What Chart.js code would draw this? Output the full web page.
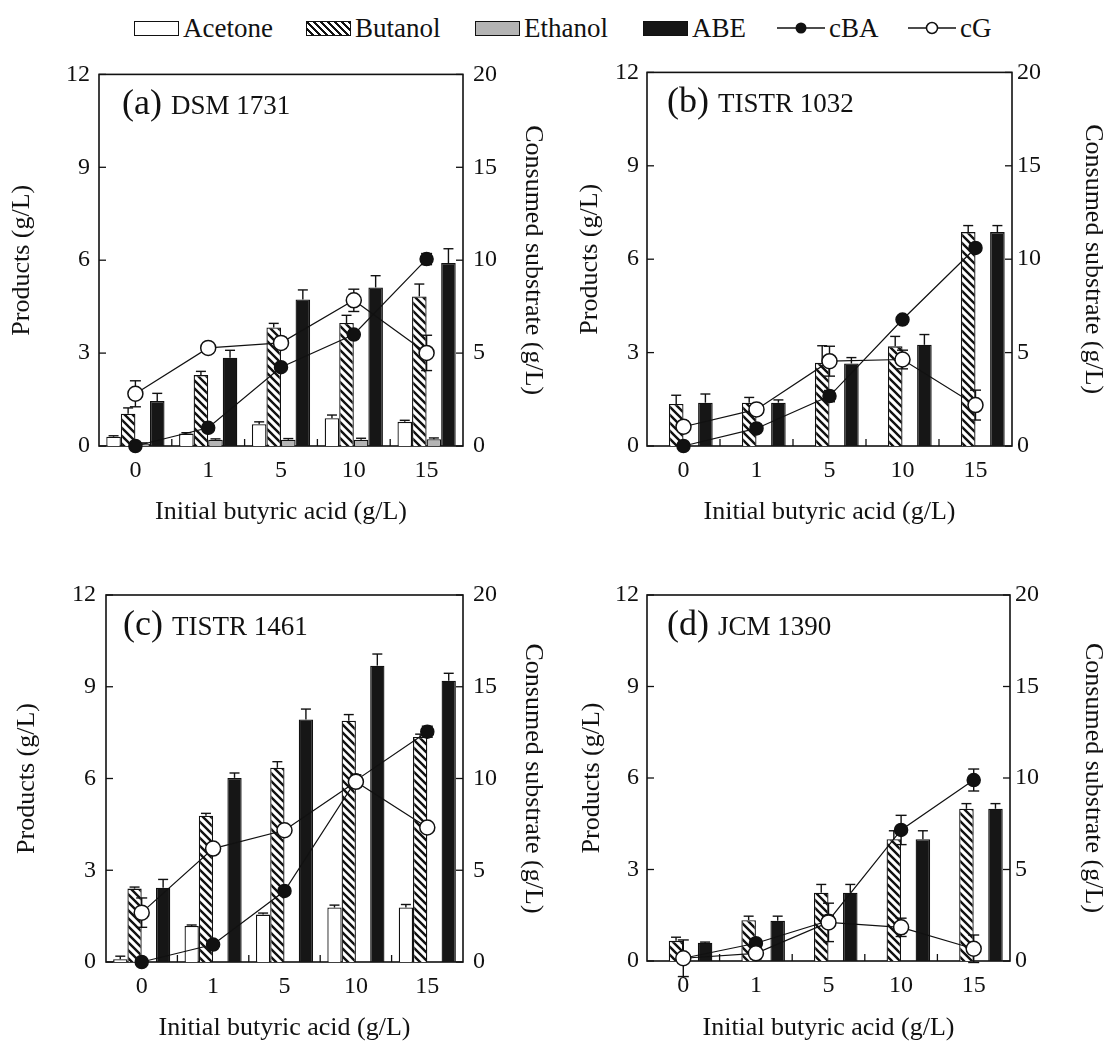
<!DOCTYPE html>
<html>
<head>
<meta charset="utf-8">
<script src="https://cdn.jsdelivr.net/npm/chart.js@4.4.0/dist/chart.umd.min.js"></script>
<style>
  body { margin: 0; background: #fff; width: 1106px; height: 1043px; position: relative; overflow: hidden;
         font-family: "Liberation Serif", "Times New Roman", serif; color: #111; }
  canvas { position: absolute; }
  .lg { position: absolute; top: 12px; height: 32px; display: flex; align-items: center; font-size: 27px; }
  .sw { width: 43px; height: 13px; border: 1.6px solid #111; margin-right: 4px; }
  .hatch { background: repeating-linear-gradient(45deg, #fff 0 3px, #111 3px 5px); }
</style>
</head>
<body>
<div class="lg" style="left:134px"><span class="sw" style="background:#fff"></span>Acetone</div>
<div class="lg" style="left:306px"><span class="sw hatch"></span>Butanol</div>
<div class="lg" style="left:475px"><span class="sw" style="background:#b4b4b4"></span>Ethanol</div>
<div class="lg" style="left:643px"><span class="sw" style="background:#161616"></span>ABE</div>
<div class="lg" style="left:776px"><svg width="50" height="16" style="margin-right:3px"><line x1="1" y1="8" x2="49" y2="8" stroke="#111" stroke-width="1.5"/><circle cx="25" cy="8" r="5.5" fill="#111"/></svg>cBA</div>
<div class="lg" style="left:907px"><svg width="50" height="16" style="margin-right:3px"><line x1="1" y1="8" x2="49" y2="8" stroke="#111" stroke-width="1.5"/><circle cx="25" cy="8" r="5.5" fill="#fff" stroke="#111" stroke-width="1.5"/></svg>cG</div>

<canvas id="pa" style="left:0;top:50px" width="553" height="490"></canvas>
<canvas id="pb" style="left:553px;top:50px" width="553" height="490"></canvas>
<canvas id="pc" style="left:0;top:550px" width="553" height="493"></canvas>
<canvas id="pd" style="left:553px;top:550px" width="553" height="493"></canvas>

<script>
// initial butyric acid (g/L)
const categories = ['0', '1', '5', '10', '15'];
const productTicks = [0, 3, 6, 9, 12];
const substrateTicks = [0, 5, 10, 15, 20];
const panelTags = ['(a)', '(b)', '(c)', '(d)'];
const strains = ['DSM 1731', 'TISTR 1032', 'TISTR 1461', 'JCM 1390'];

// (a) DSM 1731
const acetoneA = [0.30, 0.40, 0.70, 0.90, 0.78];
const acetoneErrA = [0.03, 0.03, 0.08, 0.10, 0.05];
const butanolA = [1.04, 2.29, 3.83, 3.97, 4.83];
const butanolErrA = [0.19, 0.12, 0.13, 0.25, 0.40];
const ethanolA = [0.08, 0.20, 0.20, 0.20, 0.22];
const ethanolErrA = [0.02, 0.03, 0.04, 0.05, 0.04];
const abeA = [1.45, 2.85, 4.73, 5.12, 5.91];
const abeErrA = [0.25, 0.24, 0.31, 0.38, 0.46];
const cbaA = [0, 0.98, 4.24, 6.0, 10.06];
const cbaErrA = [0.1, 0.1, 0.1, 0.2, 0.3];
const cgA = [2.81, 5.28, 5.55, 7.84, 5.01];
const cgErrA = [0.7, 0.1, 0.3, 0.6, 0.95];

// (b) TISTR 1032
const acetoneB = [0, 0, 0, 0, 0];
const acetoneErrB = [0, 0, 0, 0, 0];
const butanolB = [1.35, 1.39, 2.67, 3.20, 6.87];
const butanolErrB = [0.28, 0.17, 0.55, 0.32, 0.21];
const ethanolB = [0, 0, 0, 0, 0];
const ethanolErrB = [0, 0, 0, 0, 0];
const abeB = [1.39, 1.39, 2.65, 3.25, 6.87];
const abeErrB = [0.28, 0.09, 0.19, 0.33, 0.21];
const cbaB = [0, 0.94, 2.67, 6.77, 10.6];
const cbaErrB = [0.1, 0.1, 0.3, 0.2, 0.2];
const cgB = [1.03, 1.96, 4.54, 4.63, 2.19];
const cgErrB = [0.3, 0.3, 0.8, 0.5, 0.8];

// (c) TISTR 1461
const acetoneC = [0.09, 1.18, 1.55, 1.78, 1.78];
const acetoneErrC = [0.10, 0.03, 0.05, 0.08, 0.10];
const butanolC = [2.40, 4.78, 6.35, 7.89, 7.36];
const butanolErrC = [0.05, 0.08, 0.20, 0.20, 0.09];
const ethanolC = [0, 0, 0, 0, 0];
const ethanolErrC = [0, 0, 0, 0, 0];
const abeC = [2.43, 6.02, 7.93, 9.69, 9.20];
const abeErrC = [0.27, 0.16, 0.34, 0.38, 0.24];
const cbaC = [0, 0.95, 3.87, 9.9, 12.55];
const cbaErrC = [0.1, 0.1, 0.2, 0.3, 0.3];
const cgC = [2.69, 6.18, 7.18, 9.82, 7.33];
const cgErrC = [0.8, 0.2, 0.2, 0.2, 0.2];

// (d) JCM 1390
const acetoneD = [0, 0, 0, 0, 0];
const acetoneErrD = [0, 0, 0, 0, 0];
const butanolD = [0.66, 1.34, 2.24, 3.99, 4.99];
const butanolErrD = [0.12, 0.13, 0.27, 0.28, 0.17];
const ethanolD = [0, 0, 0, 0, 0];
const ethanolErrD = [0, 0, 0, 0, 0];
const abeD = [0.60, 1.32, 2.24, 3.99, 4.99];
const abeErrD = [0.02, 0.15, 0.27, 0.28, 0.17];
const cbaD = [0.15, 0.97, 2.2, 7.16, 9.89];
const cbaErrD = [0.2, 0.2, 0.3, 0.8, 0.6];
const cgD = [0.15, 0.42, 2.11, 1.84, 0.67];
const cgErrD = [1.0, 0.3, 1.05, 0.5, 0.75];

const INK = '#111';
const FAMILY = '"Liberation Serif", "Times New Roman", serif';

// diagonal hatch for butanol
const hatchCanvas = document.createElement('canvas');
hatchCanvas.width = 8; hatchCanvas.height = 8;
const hctx = hatchCanvas.getContext('2d');
hctx.fillStyle = '#fff';
hctx.fillRect(0, 0, 8, 8);
hctx.strokeStyle = INK;
hctx.lineWidth = 2.4;
hctx.beginPath();
hctx.moveTo(-1, -1); hctx.lineTo(9, 9);
hctx.moveTo(-1, 7); hctx.lineTo(1, 9);
hctx.moveTo(7, -1); hctx.lineTo(9, 1);
hctx.stroke();
const hatch = hctx.createPattern(hatchCanvas, 'repeat');

function line(ctx, x1, y1, x2, y2) {
  ctx.beginPath(); ctx.moveTo(x1, y1); ctx.lineTo(x2, y2); ctx.stroke();
}

// frame, inward ticks, panel label
const frame = {
  id: 'frame',
  beforeDatasetsDraw(chart, args, opts) {
    const { ctx, chartArea: a, scales } = chart;
    ctx.save();
    ctx.strokeStyle = INK;
    ctx.lineWidth = 1.6;
    ctx.strokeRect(a.left, a.top, a.right - a.left, a.bottom - a.top);
    ctx.lineWidth = 1.3;
    const tl = 7;
    scales.y.ticks.forEach(t => {
      const py = scales.y.getPixelForValue(t.value);
      line(ctx, a.left, py, a.left + tl, py);
    });
    scales.y2.ticks.forEach(t => {
      const py = scales.y2.getPixelForValue(t.value);
      line(ctx, a.right, py, a.right - tl, py);
    });
    for (let i = 0; i < categories.length - 1; i++) {
      const px = (scales.x.getPixelForValue(i) + scales.x.getPixelForValue(i + 1)) / 2;
      line(ctx, px, a.bottom, px, a.bottom - tl);
    }
    ctx.fillStyle = INK;
    ctx.textBaseline = 'alphabetic';
    ctx.font = '36px ' + FAMILY;
    const x0 = a.left + opts.dx;
    const y0 = a.top + 40;
    ctx.fillText(opts.tag, x0, y0);
    const w = ctx.measureText(opts.tag).width;
    ctx.font = '27px ' + FAMILY;
    ctx.fillText(opts.strain, x0 + w + 9, y0);
    ctx.restore();
  }
};

function drawErrors(chart, meta, ds, twoSided) {
  if (!ds.errors) return;
  const ctx = chart.ctx;
  const scale = chart.scales[meta.yAxisID];
  ctx.save();
  ctx.strokeStyle = INK;
  ctx.lineWidth = 1.4;
  meta.data.forEach((el, i) => {
    const v = ds.data[i], e = ds.errors[i];
    if (!e || v == null || (!twoSided && v === 0)) return;
    const yHi = scale.getPixelForValue(v + e);
    const yLo = scale.getPixelForValue(twoSided ? v - e : v);
    const cap = twoSided ? 5.5 : 5;
    line(ctx, el.x, yLo, el.x, yHi);
    line(ctx, el.x - cap, yHi, el.x + cap, yHi);
    if (twoSided) line(ctx, el.x - cap, yLo, el.x + cap, yLo);
  });
  ctx.restore();
}

const errorBars = {
  id: 'errorBars',
  beforeDatasetDraw(chart, args) {
    const ds = chart.data.datasets[args.index];
    if (ds.type === 'line') drawErrors(chart, args.meta, ds, true);
  },
  afterDatasetDraw(chart, args) {
    const ds = chart.data.datasets[args.index];
    if (ds.type !== 'line') drawErrors(chart, args.meta, ds, false);
  }
};

function makePanel(id, p) {
  const tickFont = { family: FAMILY, size: 24, lineHeight: 1.2 };
  const titleFont = { family: FAMILY, size: 26, lineHeight: 1 };
  const bar = { borderColor: INK, borderWidth: 1.3, yAxisID: 'y', order: 2,
                categoryPercentage: 0.8, barPercentage: 1.0 };
  const pts = { type: 'line', yAxisID: 'y2', borderColor: INK, borderWidth: 1.2,
                pointBorderColor: INK, pointBorderWidth: 1.5, tension: 0, clip: false };
  return new Chart(document.getElementById(id), {
    type: 'bar',
    data: {
      labels: categories,
      datasets: [
        { ...bar, label: 'Acetone', data: p.acetone, errors: p.acetoneErr, backgroundColor: '#fff' },
        { ...bar, label: 'Butanol', data: p.butanol, errors: p.butanolErr, backgroundColor: hatch },
        { ...bar, label: 'Ethanol', data: p.ethanol, errors: p.ethanolErr, backgroundColor: '#b4b4b4' },
        { ...bar, label: 'ABE', data: p.abe, errors: p.abeErr, backgroundColor: '#161616' },
        { ...pts, label: 'cBA', data: p.cba, errors: p.cbaErr, order: 1,
          pointRadius: 6.5, pointBackgroundColor: INK },
        { ...pts, label: 'cG', data: p.cg, errors: p.cgErr, order: 0,
          pointRadius: 7.5, pointBackgroundColor: '#fff' }
      ]
    },
    options: {
      responsive: false,
      animation: false,
      events: [],
      layout: { padding: { top: p.padTop, left: 0, right: 0, bottom: 0 } },
      plugins: {
        legend: { display: false },
        tooltip: { enabled: false },
        frame: { tag: p.tag, strain: p.strain, dx: p.tagDx }
      },
      scales: {
        x: {
          offset: true,
          grid: { display: false, drawTicks: false },
          border: { display: false },
          ticks: { color: INK, font: tickFont, padding: 10 },
          title: { display: true, text: 'Initial butyric acid (g/L)', color: INK, font: titleFont,
                   padding: { top: 0, bottom: p.xTitlePad } },
          afterFit: s => { s.height = p.xH; }
        },
        y: {
          position: 'left', min: 0, max: 12,
          afterBuildTicks: s => { s.ticks = productTicks.map(v => ({ value: v })); },
          grid: { display: false, drawTicks: false },
          border: { display: false },
          ticks: { color: INK, font: tickFont, padding: p.leftTickPad },
          title: { display: true, text: 'Products (g/L)', color: INK, font: titleFont,
                   padding: { top: p.leftTitlePad, bottom: 0 } },
          afterFit: s => { s.width = p.leftW; }
        },
        y2: {
          position: 'right', min: 0, max: 20,
          afterBuildTicks: s => { s.ticks = substrateTicks.map(v => ({ value: v })); },
          grid: { display: false, drawTicks: false },
          border: { display: false },
          ticks: { color: INK, font: tickFont, padding: p.rightTickPad },
          title: { display: true, text: 'Consumed substrate (g/L)', color: INK, font: titleFont,
                   padding: { top: p.rightTitlePad, bottom: 0 } },
          afterFit: s => { s.width = p.rightW; }
        }
      }
    },
    plugins: [frame, errorBars]
  });
}

makePanel('pa', {
  tag: panelTags[0], strain: strains[0], tagDx: 23,
  acetone: acetoneA, acetoneErr: acetoneErrA, butanol: butanolA, butanolErr: butanolErrA,
  ethanol: ethanolA, ethanolErr: ethanolErrA, abe: abeA, abeErr: abeErrA,
  cba: cbaA, cbaErr: cbaErrA, cg: cgA, cgErr: cgErrA,
  leftW: 99, rightW: 90, xH: 94, padTop: 23,
  leftTickPad: 9, rightTickPad: 10, leftTitlePad: 9, rightTitlePad: 7, xTitlePad: 15
});
makePanel('pb', {
  tag: panelTags[1], strain: strains[1], tagDx: 20,
  acetone: acetoneB, acetoneErr: acetoneErrB, butanol: butanolB, butanolErr: butanolErrB,
  ethanol: ethanolB, ethanolErr: ethanolErrB, abe: abeB, abeErr: abeErrB,
  cba: cbaB, cbaErr: cbaErrB, cg: cgB, cgErr: cgErrB,
  leftW: 94, rightW: 94, xH: 94, padTop: 22,
  leftTickPad: 8, rightTickPad: 5, leftTitlePad: 24, rightTitlePad: 0, xTitlePad: 15
});
makePanel('pc', {
  tag: panelTags[2], strain: strains[2], tagDx: 17,
  acetone: acetoneC, acetoneErr: acetoneErrC, butanol: butanolC, butanolErr: butanolErrC,
  ethanol: ethanolC, ethanolErr: ethanolErrC, abe: abeC, abeErr: abeErrC,
  cba: cbaC, cbaErr: cbaErrC, cg: cgC, cgErr: cgErrC,
  leftW: 106, rightW: 90, xH: 81, padTop: 45,
  leftTickPad: 10, rightTickPad: 10, leftTitlePad: 14, rightTitlePad: 7, xTitlePad: 2
});
makePanel('pd', {
  tag: panelTags[3], strain: strains[3], tagDx: 20,
  acetone: acetoneD, acetoneErr: acetoneErrD, butanol: butanolD, butanolErr: butanolErrD,
  ethanol: ethanolD, ethanolErr: ethanolErrD, abe: abeD, abeErr: abeErrD,
  cba: cbaD, cbaErr: cbaErrD, cg: cgD, cgErr: cgErrD,
  leftW: 94, rightW: 96, xH: 82, padTop: 45,
  leftTickPad: 8, rightTickPad: 5, leftTitlePad: 26, rightTitlePad: 0, xTitlePad: 2
});
</script>
</body>
</html>
